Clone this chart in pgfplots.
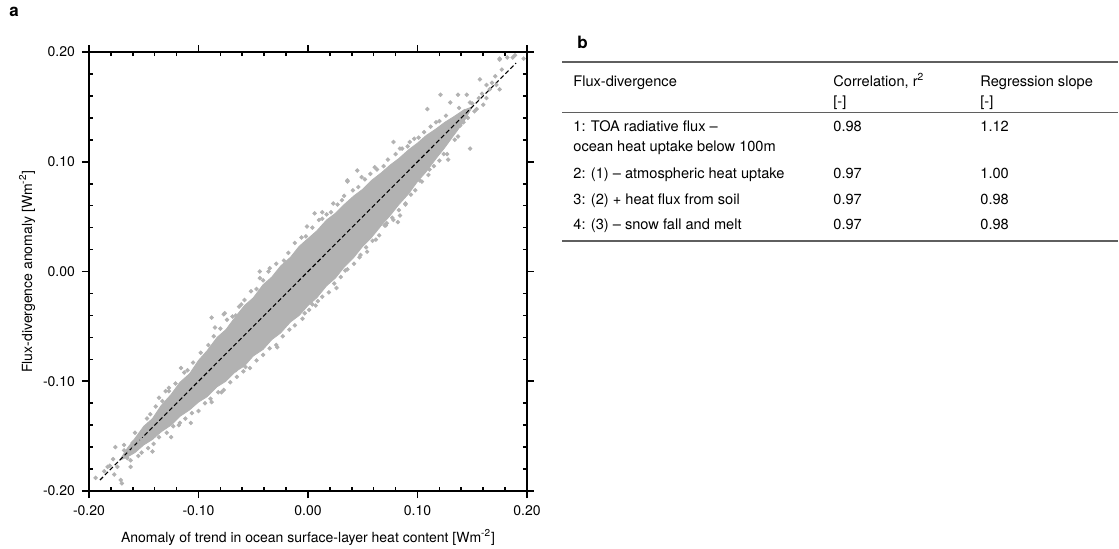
\documentclass[border=0pt]{standalone}
\usepackage{pgfplots}
\pgfplotsset{compat=1.18}
\usepackage{fontspec}
\setmainfont{TeX Gyre Heros}
\definecolor{ptgray}{RGB}{178,178,178}
\definecolor{rulecol}{RGB}{95,95,95}
\begin{document}
\begin{tikzpicture}[x=1pt,y=1pt]
\useasboundingbox (-44.5,-28.5) rectangle (515,245.5);
\begin{axis}[
  at={(0,0)}, anchor=south west,
  scale only axis, width=219pt, height=219.5pt,
  xmin=-0.2, xmax=0.2, ymin=-0.2, ymax=0.2,
  xtick={-0.2,-0.1,0,0.1,0.2}, ytick={-0.2,-0.1,0,0.1,0.2},
  minor x tick num=4, minor y tick num=4,
  tick align=outside, major tick length=3.5pt, minor tick length=-2pt,
  every tick/.style={black, line width=0.8pt},
  axis line style={line width=1.3pt},
  axis on top,
  /pgf/number format/.cd, fixed, fixed zerofill, precision=2, assume math mode=true,
  /pgfplots/.cd,
  tick label style={font=\fontsize{7}{8}\selectfont},
  label style={font=\fontsize{7}{8}\selectfont},
  xlabel={Anomaly of trend in ocean surface-layer heat content [Wm\textsuperscript{-2}]},
  ylabel={Flux-divergence anomaly [Wm\textsuperscript{-2}]},
  ylabel shift=-3pt,
]
% dense core of the cloud (envelope)
\addplot[fill=ptgray, draw=ptgray, line width=0.4pt] coordinates {
(-0.172,-0.172) (-0.165,-0.161) (-0.158,-0.152) (-0.150,-0.141) (-0.142,-0.134)
(-0.134,-0.122) (-0.125,-0.112) (-0.117,-0.101) (-0.108,-0.093) (-0.100,-0.081)
(-0.092,-0.072) (-0.083,-0.060) (-0.075,-0.053) (-0.066,-0.041) (-0.058,-0.031)
(-0.050,-0.024) (-0.041,-0.012) (-0.033,-0.005) (-0.025,0.005) (-0.016,0.013)
(-0.008,0.023) (0.000,0.030) (0.008,0.037) (0.017,0.047) (0.025,0.053)
(0.033,0.061) (0.042,0.069) (0.050,0.075) (0.058,0.083) (0.067,0.090)
(0.075,0.097) (0.083,0.103) (0.092,0.111) (0.100,0.117) (0.108,0.124)
(0.117,0.130) (0.125,0.136) (0.133,0.141) (0.142,0.147) (0.150,0.150)
(0.142,0.136) (0.133,0.124) (0.125,0.113) (0.117,0.103) (0.108,0.091)
(0.100,0.082) (0.092,0.071) (0.083,0.061) (0.075,0.051) (0.067,0.042)
(0.058,0.031) (0.050,0.023) (0.042,0.013) (0.033,0.004) (0.025,-0.006)
(0.017,-0.013) (0.008,-0.024) (0.000,-0.031) (-0.008,-0.040) (-0.016,-0.046)
(-0.025,-0.056) (-0.033,-0.062) (-0.041,-0.071) (-0.050,-0.077) (-0.058,-0.086)
(-0.066,-0.091) (-0.075,-0.100) (-0.083,-0.105) (-0.092,-0.114) (-0.100,-0.119)
(-0.108,-0.126) (-0.117,-0.132) (-0.125,-0.140) (-0.134,-0.146) (-0.142,-0.153)
(-0.150,-0.158) (-0.158,-0.165) (-0.165,-0.169)
} -- cycle;
% individual points
\addplot[only marks, mark=*, mark size=0.9pt, mark options={fill=ptgray, draw=ptgray}] coordinates {
(-0.194,-0.188) (-0.183,-0.178) (-0.181,-0.177) (-0.177,-0.185) (-0.176,-0.160)
(-0.171,-0.190) (-0.170,-0.193) (-0.162,-0.178) (-0.163,-0.165) (-0.159,-0.161)
(-0.154,-0.156) (-0.152,-0.153) (-0.142,-0.164) (-0.125,-0.151) (-0.116,-0.088)
(-0.107,-0.138) (-0.118,-0.140) (-0.136,-0.115) (-0.130,-0.109) (-0.127,-0.106)
(-0.088,-0.042) (-0.077,-0.039) (-0.066,-0.040) (-0.058,-0.037) (-0.088,-0.119)
(-0.079,-0.110) (-0.028,-0.069) (-0.066,-0.090) (-0.057,-0.087) (-0.042,-0.067)
(-0.044,0.000) (-0.044,-0.006) (-0.035,0.003) (-0.085,-0.051) (-0.076,-0.038)
(0.006,0.053) (0.013,0.054) (0.023,0.062) (-0.001,0.041)
(0.004,-0.030) (0.009,-0.027) (0.026,-0.015) (0.034,0.001) (0.047,0.013)
(0.054,0.018) (0.072,0.044) (0.078,0.047) (0.036,0.082)
(0.036,0.083) (0.049,0.086) (0.045,0.092) (0.061,0.095) (0.078,0.118)
(0.084,0.112) (0.093,0.118) (0.109,0.148) (0.121,0.161) (0.130,0.154)
(0.137,0.161) (0.145,0.161) (0.148,0.154) (0.157,0.175) (0.163,0.170)
(0.166,0.166) (0.175,0.194) (0.182,0.195) (0.187,0.195) (0.172,0.170)
(0.175,0.166) (0.197,0.194) (0.154,0.148) (0.160,0.152)
(0.148,0.112) (0.142,0.136) (0.127,0.107) (0.128,0.102) (0.134,0.120)
(0.084,0.051) (0.082,0.045) (0.089,0.061) (0.059,0.041) (0.070,0.042)
(0.102,0.083) (0.111,0.093) (0.189,0.197) (0.175,0.193)
(-0.158,-0.147) (-0.147,-0.134) (-0.139,-0.123) (-0.121,-0.102) (-0.113,-0.092)
(-0.098,-0.074) (-0.086,-0.059) (-0.074,-0.044) (-0.063,-0.032) (-0.052,-0.018)
(-0.041,-0.008) (-0.029,0.007) (-0.018,0.017) (-0.006,0.031) (0.004,0.040)
(0.017,0.052) (0.027,0.061) (0.041,0.074) (0.052,0.084) (0.063,0.093)
(0.073,0.102) (0.086,0.112) (0.097,0.121) (0.106,0.127) (0.117,0.136) (0.126,0.142)
(-0.162,-0.172) (-0.152,-0.165) (-0.141,-0.157) (-0.129,-0.147) (-0.117,-0.138)
(-0.106,-0.129) (-0.094,-0.120) (-0.082,-0.110) (-0.071,-0.101) (-0.059,-0.091)
(-0.047,-0.081) (-0.035,-0.070) (-0.023,-0.059) (-0.012,-0.049) (0.001,-0.035)
(0.013,-0.023) (0.024,-0.011) (0.036,0.002) (0.048,0.015) (0.059,0.028)
(0.071,0.042) (0.083,0.056) (0.094,0.070) (0.104,0.082) (0.115,0.096) (0.124,0.107)
(-0.186,-0.182) (-0.178,-0.171) (-0.174,-0.178) (-0.168,-0.163) (-0.165,-0.170)
(-0.160,-0.156) (-0.156,-0.160) (-0.150,-0.145) (0.132,0.128) (0.135,0.140)
(0.139,0.133) (0.143,0.146) (0.146,0.140) (0.150,0.153) (0.152,0.146)
(0.156,0.158) (0.159,0.162) (0.163,0.158) (0.168,0.172) (0.171,0.178) (0.177,0.184)
(-0.133,-0.118) (-0.105,-0.083) (-0.080,-0.052) (-0.058,-0.026) (-0.036,0.000)
(-0.012,0.026) (0.010,0.047) (0.033,0.069) (0.057,0.089) (0.080,0.107)
(0.101,0.122) (0.112,0.132)
(-0.146,-0.161) (-0.123,-0.141) (-0.100,-0.127) (-0.077,-0.108) (-0.053,-0.088)
(-0.029,-0.067) (-0.005,-0.043) (0.019,-0.019) (0.042,0.007) (0.065,0.033)
(0.089,0.062) (0.110,0.088)
(-0.168,-0.158) (-0.144,-0.130) (-0.127,-0.109) (-0.110,-0.090) (-0.091,-0.067)
(-0.069,-0.041) (-0.047,-0.016) (-0.022,0.010) (-0.002,0.032) (0.021,0.054)
(0.046,0.077) (0.069,0.096) (0.091,0.114) (0.120,0.137) (0.138,0.149)
(0.013,0.048) (-0.061,-0.030) (0.031,0.065)
(-0.155,-0.168) (-0.136,-0.151) (-0.112,-0.134) (-0.089,-0.116) (-0.065,-0.096)
(-0.041,-0.076) (-0.017,-0.053) (0.007,-0.031) (0.030,-0.005) (0.053,0.022)
(0.077,0.049) (0.098,0.074) (0.120,0.101) (0.137,0.123) (-0.003,-0.038) (0.062,0.029)
};
% regression line
\addplot[black, line width=0.55pt, dash pattern=on 2.2pt off 1.3pt] coordinates {(-0.19,-0.19) (0.19,0.19)};
\end{axis}
% panel labels
\node[anchor=base west, inner sep=0, font=\fontsize{8.5}{9}\selectfont\bfseries] at (-40,237.5) {a};
\node[anchor=base west, inner sep=0, font=\fontsize{8.5}{9}\selectfont\bfseries] at (244,221.5) {b};
% table
\draw[rulecol, line width=0.75pt] (236.5,214.5) -- (514.5,214.5);
\draw[rulecol, line width=0.5pt] (236.5,189.3) -- (514.5,189.3);
\draw[rulecol, line width=0.75pt] (236.5,125) -- (514.5,125);
\begin{scope}[every node/.style={anchor=base west, inner sep=0, font=\fontsize{7.3}{9}\selectfont}]
\node at (242,202.1) {Flux-divergence};
\node at (372,202.1) {Correlation, r\textsuperscript{2}};
\node at (445.5,202.1) {Regression slope};
\node at (372,192.1) {[-]};
\node at (445.5,192.1) {[-]};
\node at (242,180) {1: TOA radiative flux –};
\node at (242,170) {ocean heat uptake below 100m};
\node at (372,180) {0.98};
\node at (445.5,180) {1.12};
\node at (242,156.3) {2: (1) – atmospheric heat uptake};
\node at (372,156.3) {0.97};
\node at (445.5,156.3) {1.00};
\node at (242,143.3) {3: (2) + heat flux from soil};
\node at (372,143.3) {0.97};
\node at (445.5,143.3) {0.98};
\node at (242,131) {4: (3) – snow fall and melt};
\node at (372,131) {0.97};
\node at (445.5,131) {0.98};
\end{scope}
\end{tikzpicture}
\end{document}
